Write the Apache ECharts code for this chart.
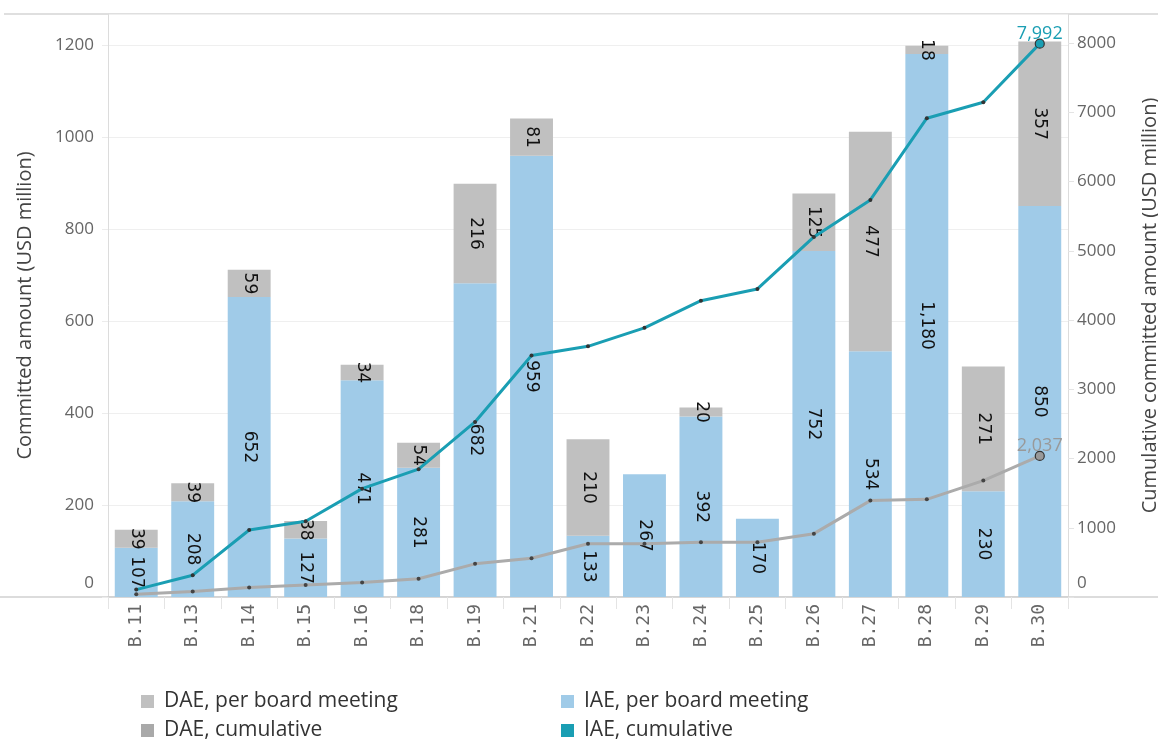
<!DOCTYPE html>
<html>
<head>
<meta charset="utf-8">
<script src="https://cdn.jsdelivr.net/npm/echarts@6/dist/echarts.min.js"></script>
<style>
html,body{margin:0;padding:0;background:#fff;overflow:hidden;}
#chart{width:1158px;height:740px;}
</style>
</head>
<body>
<div id="chart"></div>
<script>
const categories = ['B.11','B.13','B.14','B.15','B.16','B.18','B.19','B.21','B.22','B.23','B.24','B.25','B.26','B.27','B.28','B.29','B.30'];
const iaePerMeeting = [107,208,652,127,471,281,682,959,133,267,392,170,752,534,1180,230,850];
const daePerMeeting = [39,39,59,38,34,54,216,81,210,0,20,0,125,477,18,271,357];
const iaeCumulative = [107,315,967,1094,1565,1846,2528,3487,3620,3887,4279,4449,5201,5735,6915,7145,7992];
const daeCumulative = [39,78,137,175,209,263,479,560,770,770,790,790,915,1392,1410,1681,2037];
const leftTicks = [0,200,400,600,800,1000,1200];
const rightTicks = [0,1000,2000,3000,4000,5000,6000,7000,8000];

const FONT = '"Open Sans", "Noto Sans", sans-serif';
const MONO = '"DejaVu Sans Mono", "Liberation Mono", monospace';
const DEJAVU = '"DejaVu Sans", sans-serif';
const C_IAE_BAR = '#a0cbe8', C_DAE_BAR = '#c0c0c0', C_IAE_LINE = '#1a9eb3', C_DAE_LINE = '#ababab';

function lineData(arr, color) {
  return arr.map((v, i) => {
    if (i !== arr.length - 1) return v;
    return {
      value: v,
      symbolSize: 9,
      itemStyle: { color: color, borderColor: '#333', borderWidth: 1.2 },
      label: {
        show: true, position: 'top', distance: 0, offset: [0, 4],
        color: color, fontSize: 18, fontFamily: FONT,
        formatter: p => p.value.toLocaleString('en-US')
      }
    };
  });
}

const chart = echarts.init(document.getElementById('chart'));
const zeroFmt = v => v === 0 ? '{z|0}' : String(v);
const axLabel = {
  color: '#666', fontSize: 17, fontFamily: FONT,
  showMaxLabel: false, formatter: zeroFmt,
  rich: { z: { color: '#666', fontSize: 17, fontFamily: FONT, padding: [0, 0, 28, 0] } }
};
const barLabel = {
  show: true, position: 'inside', rotate: -90, color: '#111', fontSize: 17, fontFamily: DEJAVU,
  formatter: p => p.value === 0 ? '' : p.value.toLocaleString('en-US')
};
const legendText = { color: '#333', fontSize: 21, fontFamily: FONT, padding: [0, 0, 0, 5] };

chart.setOption({
  animation: false,
  textStyle: { fontFamily: FONT },
  grid: { left: 108, right: 90, top: 14, bottom: 143, containLabel: false, outerBoundsMode: 'none' },
  graphic: [
    { type: 'line', shape: { x1: 4, y1: 14, x2: 1158, y2: 14 }, style: { stroke: '#d4d4d4', lineWidth: 1.5 } },
    { type: 'line', shape: { x1: 0, y1: 597, x2: 1158, y2: 597 }, style: { stroke: '#d0d0d0', lineWidth: 1.5 } }
  ],
  legend: [
    { data: [{ name: 'DAE, per board meeting', itemStyle: { color: C_DAE_BAR } }], left: 136, top: 686 },
    { data: [{ name: 'DAE, cumulative', itemStyle: { color: '#a9a9a9' } }], left: 136, top: 715 },
    { data: [{ name: 'IAE, per board meeting', itemStyle: { color: C_IAE_BAR } }], left: 556, top: 686 },
    { data: [{ name: 'IAE, cumulative', itemStyle: { color: C_IAE_LINE } }], left: 556, top: 715 }
  ].map(l => Object.assign(l, {
    icon: 'rect', itemWidth: 13, itemHeight: 13, itemGap: 10,
    textStyle: legendText
  })),
  xAxis: {
    type: 'category', data: categories, boundaryGap: true,
    axisLine: { show: true, lineStyle: { color: '#d0d0d0', width: 1.5 } },
    axisTick: { show: true, alignWithLabel: false, length: 12, lineStyle: { color: '#e4e4e4' } },
    axisLabel: { rotate: 90, color: '#666', fontSize: 18, fontFamily: MONO, margin: 7 },
    splitLine: { show: false }
  },
  yAxis: [
    {
      type: 'value', min: 0, max: 1267, interval: 200, position: 'left',
      name: 'Committed amount (USD million)', nameLocation: 'middle', nameGap: 73,
      nameTextStyle: { color: '#444', fontSize: 20, fontFamily: FONT },
      axisLine: { show: true, lineStyle: { color: '#dcdcdc' } },
      axisTick: { show: true, length: 6, lineStyle: { color: '#ececec' } },
      axisLabel: Object.assign({ margin: 14 }, axLabel),
      splitLine: { show: true, lineStyle: { color: '#efefef' } }
    },
    {
      type: 'value', min: 0, max: 8420, interval: 1000, position: 'right',
      name: 'Cumulative committed amount (USD million)', nameLocation: 'middle', nameGap: 72,
      nameTextStyle: { color: '#444', fontSize: 20, fontFamily: FONT },
      axisLine: { show: true, lineStyle: { color: '#dcdcdc' } },
      axisTick: { show: true, length: 6, lineStyle: { color: '#e4e4e4' } },
      axisLabel: Object.assign({ margin: 9 }, axLabel),
      splitLine: { show: false }
    }
  ],
  series: [
    {
      name: 'IAE, per board meeting', type: 'bar', stack: 'pm', yAxisIndex: 0,
      data: iaePerMeeting, barCategoryGap: '24%',
      itemStyle: { color: C_IAE_BAR }, label: barLabel, z: 2
    },
    {
      name: 'DAE, per board meeting', type: 'bar', stack: 'pm', yAxisIndex: 0,
      data: daePerMeeting, barCategoryGap: '24%',
      itemStyle: { color: C_DAE_BAR }, label: barLabel, z: 2
    },
    {
      name: 'DAE, cumulative', type: 'line', yAxisIndex: 1,
      data: lineData(daeCumulative, '#999'),
      symbol: 'circle', symbolSize: 4, showAllSymbol: true,
      itemStyle: { color: '#444' }, lineStyle: { color: C_DAE_LINE, width: 3 },
      z: 3
    },
    {
      name: 'IAE, cumulative', type: 'line', yAxisIndex: 1,
      data: lineData(iaeCumulative, C_IAE_LINE),
      symbol: 'circle', symbolSize: 4, showAllSymbol: true,
      itemStyle: { color: '#333' }, lineStyle: { color: C_IAE_LINE, width: 3 },
      z: 4
    }
  ]
});
</script>
</body>
</html>
